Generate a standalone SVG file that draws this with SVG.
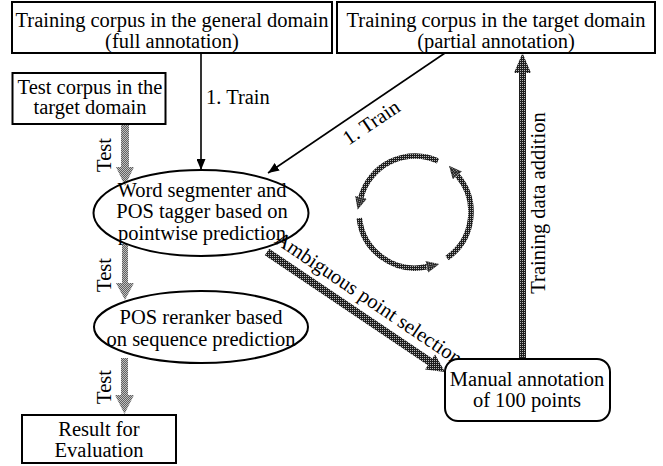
<svg xmlns="http://www.w3.org/2000/svg" width="663" height="466" viewBox="0 0 663 466">
<defs>
<style>
text{font-family:"Liberation Serif","Times New Roman",serif;font-size:20.5px;fill:#000}
.box{fill:#fff;stroke:#000;stroke-width:2}
.thin{stroke:#000;stroke-width:1.6;fill:none}
.mid{text-anchor:middle}
.cyc{fill:none;stroke:url(#dark);stroke-width:5.5}
</style>
<pattern id="dark" patternUnits="userSpaceOnUse" width="2" height="2">
<rect width="2" height="2" fill="#1e1e1e"/>
<rect width="1" height="1" fill="#b8b8b8"/>
</pattern>
<pattern id="gray" patternUnits="userSpaceOnUse" width="2" height="2">
<rect width="2" height="2" fill="#606060"/>
<rect width="1" height="1" fill="#c0c0c0"/>
<rect x="1" y="1" width="1" height="1" fill="#c0c0c0"/>
</pattern>
<marker id="ah" markerUnits="userSpaceOnUse" markerWidth="11" markerHeight="9" refX="11" refY="4.5" orient="auto">
<path d="M0,0 L11,4.5 L0,9 z" fill="#000"/>
</marker>
<marker id="cah" markerUnits="userSpaceOnUse" markerWidth="13" markerHeight="12" refX="0" refY="6" orient="auto">
<path d="M0,0 L13,6 L0,12 z" fill="url(#dark)"/>
</marker>
</defs>

<g id="connectors">
<line class="thin" x1="201" y1="53" x2="201" y2="170" marker-end="url(#ah)"/>
<line class="thin" x1="445" y1="53" x2="268" y2="173" marker-end="url(#ah)"/>
<polygon points="121,125 129,125 129,167 134,167 125,186 116,167 121,167" fill="url(#gray)"/>
<polygon points="122,244 128,244 128,283 134,283 125,300 116,283 122,283" fill="url(#gray)"/>
<polygon points="121,358 128,358 128,395 134,395 124.5,414 115,395 121,395" fill="url(#gray)"/>
<polygon points="269.2,248.7 432.3,358.6 435.1,354.4 445,372 425.1,369.4 427.9,365.2 264.8,255.3" fill="url(#dark)"/>
<polygon points="519,358 526,358 526,73 531,73 522.5,53 514,73 519,73" fill="url(#dark)"/>
<path class="cyc" d="M438,160.9 A56,56 0 0 0 361,197.2" marker-end="url(#cah)"/>
<path class="cyc" d="M359.3,218.1 A56,56 0 0 0 426.6,266.8" marker-end="url(#cah)"/>
<path class="cyc" d="M447,258 A56,56 0 0 0 457.4,175.5" marker-end="url(#cah)"/>
<text x="206" y="104">1. Train</text>
<text class="mid" transform="translate(375,128) rotate(-34)">1. Train</text>
<text class="mid" transform="translate(111,155) rotate(-90)">Test</text>
<text class="mid" transform="translate(111,275) rotate(-90)">Test</text>
<text class="mid" transform="translate(111,387) rotate(-90)">Test</text>
<text class="mid" transform="translate(545,203) rotate(-90)">Training data addition</text>
<text class="mid" transform="translate(365,304) rotate(34)">Ambiguous point selection</text>
</g>

<g id="general-corpus">
<rect class="box" x="12" y="2" width="320" height="51"/>
<text class="mid" x="172" y="27">Training corpus in the general domain</text>
<text class="mid" x="172" y="48">(full annotation)</text>
</g>

<g id="target-corpus">
<rect class="box" x="337" y="2" width="318" height="51"/>
<text class="mid" x="496" y="27">Training corpus in the target domain</text>
<text class="mid" x="496" y="48">(partial annotation)</text>
</g>

<g id="test-corpus">
<rect class="box" x="12.5" y="73" width="153" height="51"/>
<text class="mid" x="90" y="94">Test corpus in the</text>
<text class="mid" x="90" y="114">target domain</text>
</g>

<g id="segmenter">
<ellipse cx="201" cy="213" rx="107.5" ry="43" fill="none" stroke="#000" stroke-width="2"/>
<text class="mid" x="202" y="197">Word segmenter and</text>
<text class="mid" x="202" y="218">POS tagger based on</text>
<text class="mid" x="202" y="240">pointwise prediction</text>
</g>

<g id="reranker">
<ellipse cx="201" cy="327" rx="107" ry="36" fill="#fff" stroke="#000" stroke-width="2"/>
<text class="mid" x="201" y="324">POS reranker based</text>
<text class="mid" x="201" y="346">on sequence prediction</text>
</g>

<g id="result">
<rect class="box" x="22" y="415" width="154" height="48"/>
<text class="mid" x="99" y="436">Result for</text>
<text class="mid" x="99" y="457">Evaluation</text>
</g>

<g id="manual">
<rect class="box" x="445" y="359" width="165" height="62" rx="13" ry="13"/>
<text class="mid" x="527" y="386">Manual annotation</text>
<text class="mid" x="527" y="407">of 100 points</text>
</g>
</svg>
